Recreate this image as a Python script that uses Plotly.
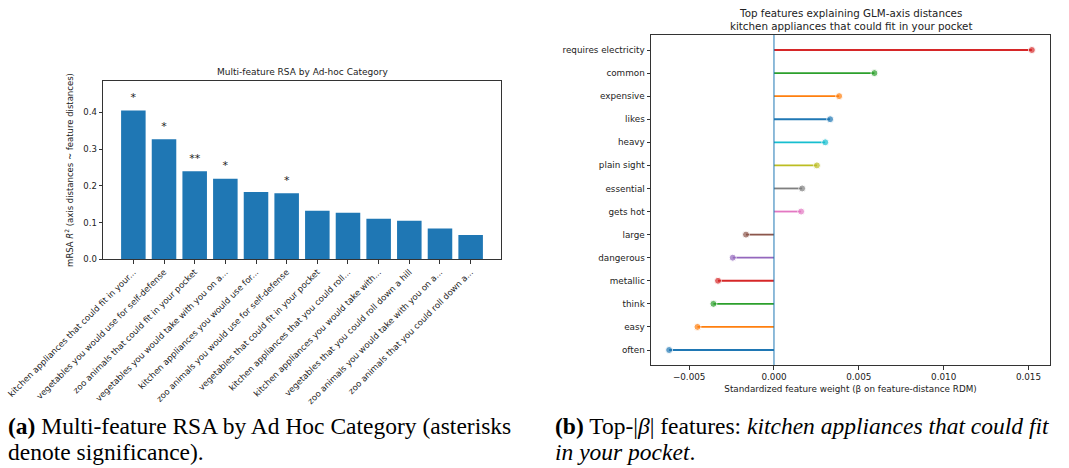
import plotly.graph_objects as go

# ---------------- data: left panel ----------------
categories = [
    "kitchen appliances that could fit in your...",
    "vegetables you would use for self-defense",
    "zoo animals that could fit in your pocket",
    "vegetables you would take with you on a...",
    "kitchen appliances you would use for...",
    "zoo animals you would use for self-defense",
    "vegetables that could fit in your pocket",
    "kitchen appliances that you could roll...",
    "kitchen appliances you would take with...",
    "vegetables that you could roll down a hill",
    "zoo animals you would take with you on a...",
    "zoo animals that you could roll down a...",
]
r2_values = [0.405, 0.3265, 0.2395, 0.219, 0.183, 0.1795, 0.132, 0.127, 0.1105, 0.105, 0.084, 0.066]
stars = ["*", "*", "**", "*", "", "*", "", "", "", "", "", ""]
left_yticks = [0.0, 0.1, 0.2, 0.3, 0.4]

# ---------------- data: right panel (top to bottom) ----------------
features = ["requires electricity", "common", "expensive", "likes", "heavy", "plain sight",
            "essential", "gets hot", "large", "dangerous", "metallic", "think", "easy", "often"]
betas = [0.0152, 0.00592, 0.00384, 0.00331, 0.00302, 0.00253, 0.00166, 0.0016,
         -0.00165, -0.00243, -0.0033, -0.00357, -0.00451, -0.00618]
right_xticks = [-0.005, 0.0, 0.005, 0.010, 0.015]
right_xticklabels = ["\u22120.005", "0.000", "0.005", "0.010", "0.015"]
tab10 = ["#1f77b4", "#ff7f0e", "#2ca02c", "#d62728", "#9467bd",
         "#8c564b", "#e377c2", "#7f7f7f", "#bcbd22", "#17becf"]

W, H = 1069, 468
FONT = "DejaVu Sans"
AX = "#333333"

def px_x(p):
    return p / W

def px_y(p):
    return 1 - p / H

fig = go.Figure()

# left bars
fig.add_trace(go.Bar(x=categories, y=r2_values, marker=dict(color="#1f77b4", line=dict(width=0)),
                     width=0.8, xaxis="x", yaxis="y", showlegend=False))
star_y = [v + 0.033 for v in r2_values]
fig.add_trace(go.Scatter(x=categories, y=star_y, mode="text", text=stars,
                         textposition="middle center",
                         textfont=dict(family=FONT, size=11, color="#222"),
                         xaxis="x", yaxis="y", showlegend=False))

# right lollipops
n = len(features)
for k, (f, b) in enumerate(zip(features, betas)):
    yi = n - 1 - k
    col = tab10[yi % 10]
    fig.add_trace(go.Scatter(x=[0, b], y=[yi, yi], mode="lines+markers",
                             line=dict(color=col, width=1.8),
                             marker=dict(color=col, size=[0, 7]),
                             xaxis="x2", yaxis="y2", showlegend=False))

fig.add_shape(type="line", xref="x2", yref="y2 domain", x0=0, x1=0, y0=0, y1=1,
              line=dict(color="#1f77b4", width=1))

nb = len(categories)
span = (nb - 1) + 0.8
bmin, bmax = min(betas), max(betas)
bspan = bmax - bmin

def axis_common(fs):
    return dict(showline=True, linecolor=AX, linewidth=1, mirror=True,
                ticks="outside", ticklen=3.5, tickcolor=AX, tickwidth=0.8,
                showgrid=False, zeroline=False,
                tickfont=dict(family=FONT, size=fs, color="#222"))

fig.update_layout(
    width=W, height=H,
    margin=dict(l=0, r=0, t=0, b=0),
    paper_bgcolor="white", plot_bgcolor="white",
    font=dict(family=FONT, size=9, color="#222"),
    bargap=0.2,
    xaxis=dict(domain=[px_x(103), px_x(501)], anchor="y", type="category",
               range=[-0.4 - 0.05 * span, nb - 1 + 0.4 + 0.05 * span],
               tickangle=-45, automargin=False, **axis_common(8.5)),
    yaxis=dict(domain=[px_y(259.3), px_y(80.7)], anchor="x",
               range=[0, 0.486], tickvals=left_yticks, ticktext=[f"{v:.1f}" for v in left_yticks],
               automargin=False,
               title=dict(text="mRSA <i>R</i><sup>2</sup> (axis distances ~ feature distances)",
                          font=dict(family=FONT, size=8.5, color="#222"), standoff=8),
               **axis_common(8.5)),
    xaxis2=dict(domain=[px_x(651), px_x(1050)], anchor="y2",
                range=[bmin - 0.05 * bspan, bmax + 0.05 * bspan],
                tickvals=right_xticks, ticktext=right_xticklabels, automargin=False,
                title=dict(text="Standardized feature weight (\u03b2 on feature-distance RDM)",
                           font=dict(family=FONT, size=8.8, color="#222"), standoff=4),
                **axis_common(8.8)),
    yaxis2=dict(domain=[px_y(365), px_y(35)], anchor="x2",
                range=[-0.65, n - 1 + 0.65],
                tickvals=[n - 1 - k for k in range(n)], ticktext=features, automargin=False,
                **axis_common(8.8)),
)

# titles
fig.add_annotation(text="Multi-feature RSA by Ad-hoc Category", xref="paper", yref="paper",
                   x=px_x(302), y=px_y(72), xanchor="center", yanchor="middle", showarrow=False,
                   font=dict(family=FONT, size=9, color="#222"))
fig.add_annotation(text="Top features explaining GLM-axis distances<br>kitchen appliances that could fit in your pocket",
                   xref="paper", yref="paper", x=px_x(850.5), y=px_y(19.5), xanchor="center",
                   yanchor="middle", showarrow=False, align="center",
                   font=dict(family=FONT, size=10.3, color="#222"))

# captions (one annotation per line for tight line spacing)
CAP = "Liberation Serif"
cap_lines = [
    (6, 425.5, "<b>(a)</b> Multi-feature RSA by Ad Hoc Category (asterisks"),
    (6, 451.5, "denote significance)."),
    (553, 425.5, "<b>(b)</b> Top-|<i>\u03b2</i>| features: <i>kitchen appliances that could fit</i>"),
    (553, 451.5, "<i>in your pocket</i>."),
]
for cx, cy, txt in cap_lines:
    fig.add_annotation(text=txt, xref="paper", yref="paper", x=px_x(cx), y=px_y(cy),
                       xanchor="left", yanchor="middle", align="left", showarrow=False,
                       font=dict(family=CAP, size=23.5, color="black"))

fig.write_html("out.html", config={"displayModeBar": False},
               post_script="document.body.style.margin='0px';document.body.style.overflow='hidden';")
